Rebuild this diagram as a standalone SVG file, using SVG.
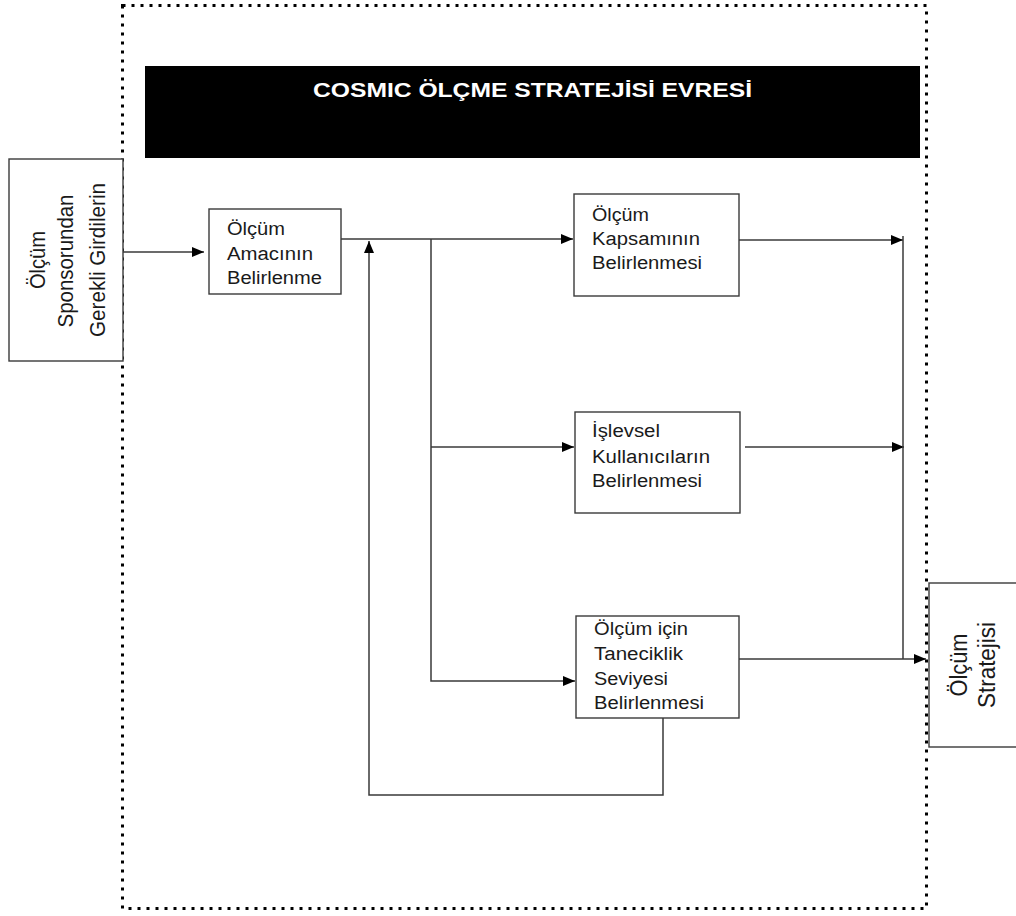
<svg xmlns="http://www.w3.org/2000/svg" width="1016" height="916" viewBox="0 0 1016 916">
  <style>
    .box { fill: #ffffff; stroke: #3a3a3a; stroke-width: 1.4; }
    .lbl { font-family: "Liberation Sans", Arial, sans-serif; font-size: 18px; fill: #1a1a1a; }
    .vlbl { font-family: "Liberation Sans", Arial, sans-serif; font-size: 22px; fill: #1a1a1a; text-anchor: middle; }
    .wire { fill: none; stroke: #3a3a3a; stroke-width: 1.5; }
    .title { font-family: "Liberation Sans", Arial, sans-serif; font-size: 20px; font-weight: bold; fill: #ffffff; }
  </style>
  <defs>
    <marker id="arrow" viewBox="0 0 12 10" refX="12" refY="5" markerWidth="13" markerHeight="10" markerUnits="userSpaceOnUse" orient="auto">
      <path d="M0,0 L12,5 L0,10 Z" fill="#000000"/>
    </marker>
  </defs>
  <rect width="1016" height="916" fill="#ffffff"/>

  <!-- phase boundary -->
  <g id="phase-boundary">
    <rect x="122.5" y="5.5" width="804" height="903" fill="none" stroke="#000000" stroke-width="3" stroke-dasharray="3 6"/>
  </g>

  <!-- phase title bar -->
  <g id="phase-title">
    <rect x="145" y="66" width="775" height="92" fill="#000000"/>
    <text class="title" x="313" y="97" textLength="439" lengthAdjust="spacingAndGlyphs">COSMIC ÖLÇME STRATEJİSİ EVRESİ</text>
  </g>

  <!-- connectors -->
  <g id="connectors">
    <path class="wire" d="M123,252 L204,252" marker-end="url(#arrow)"/>
    <path class="wire" d="M341,239 L573,239" marker-end="url(#arrow)"/>
    <path class="wire" d="M431,239 L431,681 L575,681" marker-end="url(#arrow)"/>
    <path class="wire" d="M431,447 L574,447" marker-end="url(#arrow)"/>
    <path class="wire" d="M663,718 L663,795 L369,795 L369,241" marker-end="url(#arrow)"/>
    <path class="wire" d="M739,240 L903,240" marker-end="url(#arrow)"/>
    <path class="wire" d="M745,447 L904,447" marker-end="url(#arrow)"/>
    <path class="wire" d="M903,236 L903,659"/>
    <path class="wire" d="M739,659 L926,659" marker-end="url(#arrow)"/>
  </g>

  <!-- input from sponsor -->
  <g id="sponsor-input">
    <rect class="box" x="9" y="159" width="114" height="202"/>
    <text class="vlbl" transform="translate(45,260) rotate(-90)" textLength="58" lengthAdjust="spacingAndGlyphs">Ölçüm</text>
    <text class="vlbl" transform="translate(73,261) rotate(-90)" textLength="133" lengthAdjust="spacingAndGlyphs">Sponsorundan</text>
    <text class="vlbl" transform="translate(105,260) rotate(-90)" textLength="154" lengthAdjust="spacingAndGlyphs">Gerekli Girdilerin</text>
  </g>

  <!-- purpose -->
  <g id="purpose">
    <rect class="box" x="209" y="209" width="132" height="85"/>
    <text class="lbl" x="227" y="235" textLength="58" lengthAdjust="spacingAndGlyphs">Ölçüm</text>
    <text class="lbl" x="227" y="260" textLength="86" lengthAdjust="spacingAndGlyphs">Amacının</text>
    <text class="lbl" x="227" y="284" textLength="95" lengthAdjust="spacingAndGlyphs">Belirlenme</text>
  </g>

  <!-- scope -->
  <g id="scope">
    <rect class="box" x="574" y="194" width="165" height="102"/>
    <text class="lbl" x="592" y="221" textLength="57" lengthAdjust="spacingAndGlyphs">Ölçüm</text>
    <text class="lbl" x="592" y="245" textLength="108" lengthAdjust="spacingAndGlyphs">Kapsamının</text>
    <text class="lbl" x="592" y="269" textLength="110" lengthAdjust="spacingAndGlyphs">Belirlenmesi</text>
  </g>

  <!-- functional users -->
  <g id="functional-users">
    <rect class="box" x="575" y="412" width="165" height="101"/>
    <text class="lbl" x="592" y="437" textLength="68" lengthAdjust="spacingAndGlyphs">İşlevsel</text>
    <text class="lbl" x="592" y="463" textLength="118" lengthAdjust="spacingAndGlyphs">Kullanıcıların</text>
    <text class="lbl" x="592" y="487" textLength="110" lengthAdjust="spacingAndGlyphs">Belirlenmesi</text>
  </g>

  <!-- granularity level -->
  <g id="granularity">
    <rect class="box" x="576" y="616" width="163" height="102"/>
    <text class="lbl" x="594" y="635" textLength="94" lengthAdjust="spacingAndGlyphs">Ölçüm için</text>
    <text class="lbl" x="594" y="660" textLength="89" lengthAdjust="spacingAndGlyphs">Taneciklik</text>
    <text class="lbl" x="594" y="685" textLength="74" lengthAdjust="spacingAndGlyphs">Seviyesi</text>
    <text class="lbl" x="594" y="709" textLength="110" lengthAdjust="spacingAndGlyphs">Belirlenmesi</text>
  </g>

  <!-- resulting strategy -->
  <g id="strategy-output">
    <rect class="box" x="929" y="583" width="95" height="164"/>
    <text class="vlbl" style="font-size:23px" transform="translate(967,665) rotate(-90)" textLength="63" lengthAdjust="spacingAndGlyphs">Ölçüm</text>
    <text class="vlbl" style="font-size:23px" transform="translate(995,665) rotate(-90)" textLength="86" lengthAdjust="spacingAndGlyphs">Stratejisi</text>
  </g>
</svg>
